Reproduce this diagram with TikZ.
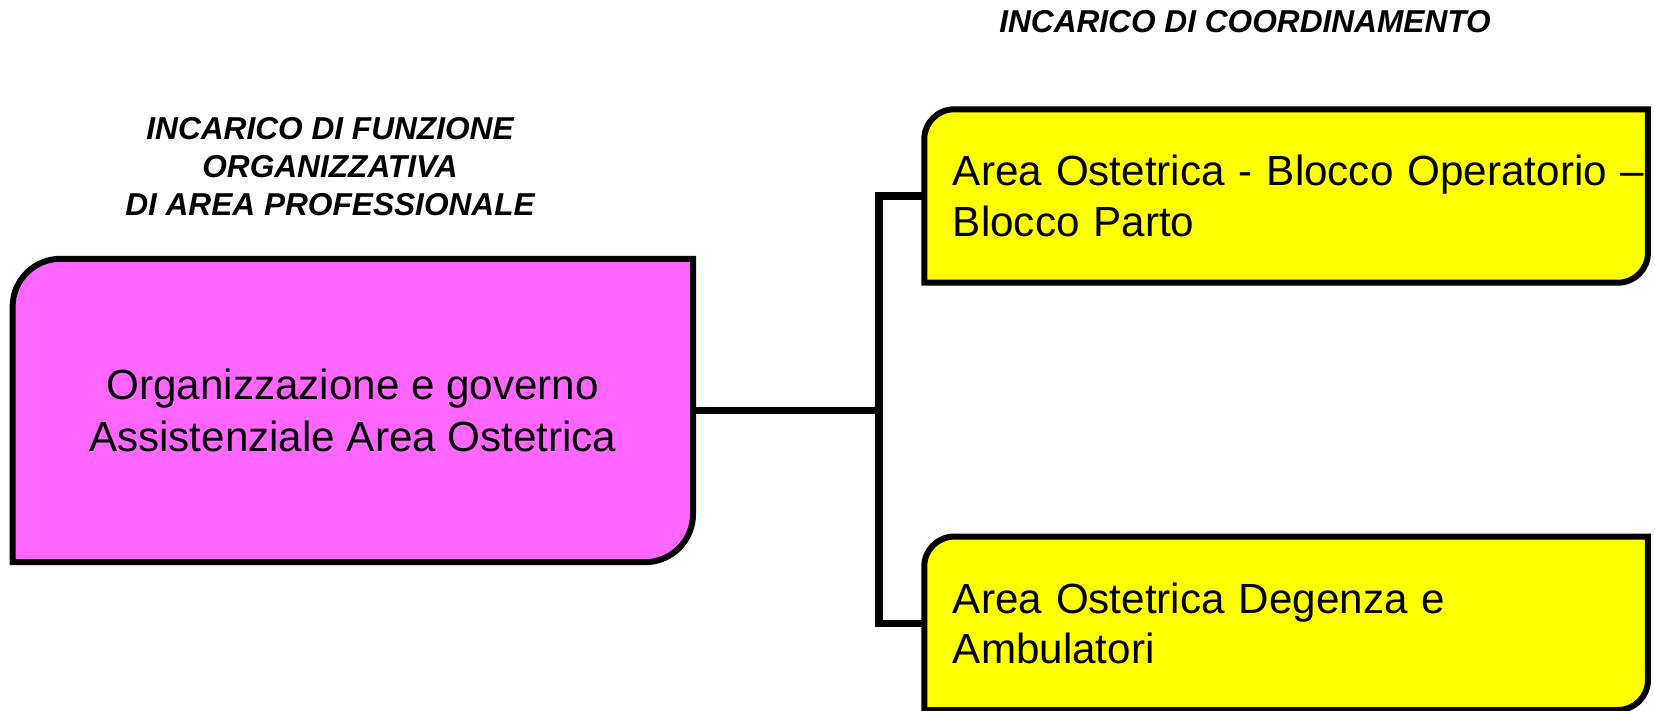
\documentclass[tikz,border=0pt]{standalone}
\usepackage{fontspec}
\setmainfont{Liberation Sans}
\usetikzlibrary{backgrounds}

\definecolor{orgpink}{RGB}{255,102,255}
\definecolor{areayellow}{RGB}{255,255,0}

\tikzset{%
    boxline/.style={line width=1.7pt},
    link/.style={line width=2.1pt},
    heading/.style={%
        align=center,
        font=\fontsize{9}{10.8}\selectfont\bfseries\itshape
    },
    orgbox/.style={%
        minimum width=6.79cm, minimum height=3.02cm,
        align=center, font=\fontsize{12}{14.6}\selectfont
    },
    areabox/.style={%
        minimum width=7.223cm, minimum height=1.72cm,
        text width=6.663cm, inner xsep=0.28cm, align=left,
        font=\fontsize{12}{14.4}\selectfont
    }
}

% box with only the top left and bottom right corners rounded
\newcommand{\cutbox}[3]{%
    \draw[boxline, fill=#3]
        (#1.south west) --
        ([yshift=-#2] #1.north west)
        arc[start angle=180, end angle=90, radius=#2] --
        (#1.north east) --
        ([yshift=#2] #1.south east)
        arc[start angle=0, end angle=-90, radius=#2] --
        cycle;
}

\begin{document}
\begin{tikzpicture}

    \useasboundingbox (0, 0) rectangle (16.55, 7.11);

    % Headings
    \node[heading] (funzione) at (3.30, 5.44) {%
        INCARICO DI FUNZIONE\\
        ORGANIZZATIVA\\
        DI AREA PROFESSIONALE
    };
    \node[heading] (coordinamento) at (12.45, 6.89)
        {INCARICO DI COORDINAMENTO};

    % Boxes
    \node[orgbox] (org) at (3.528, 3.005)
        {Organizzazione e governo\\Assistenziale Area Ostetrica};

    \node[areabox] (blocco) at (12.861, 5.15)
        {\mbox{Area Ostetrica - Blocco Operatorio –}\\Blocco Parto};
    \node[areabox] (degenza) at (12.861, 0.877)
        {Area Ostetrica Degenza e\\Ambulatori};

    \begin{scope}[on background layer]
        \cutbox{org}{0.48cm}{orgpink}
        \cutbox{blocco}{0.30cm}{areayellow}
        \cutbox{degenza}{0.30cm}{areayellow}
    \end{scope}

    % Connectors
    \coordinate (fork) at (8.79, 3.005);
    \draw[link] (org.east) -- (fork);
    \draw[link] (blocco.west) -| (fork) |- (degenza.west);

\end{tikzpicture}
\end{document}
